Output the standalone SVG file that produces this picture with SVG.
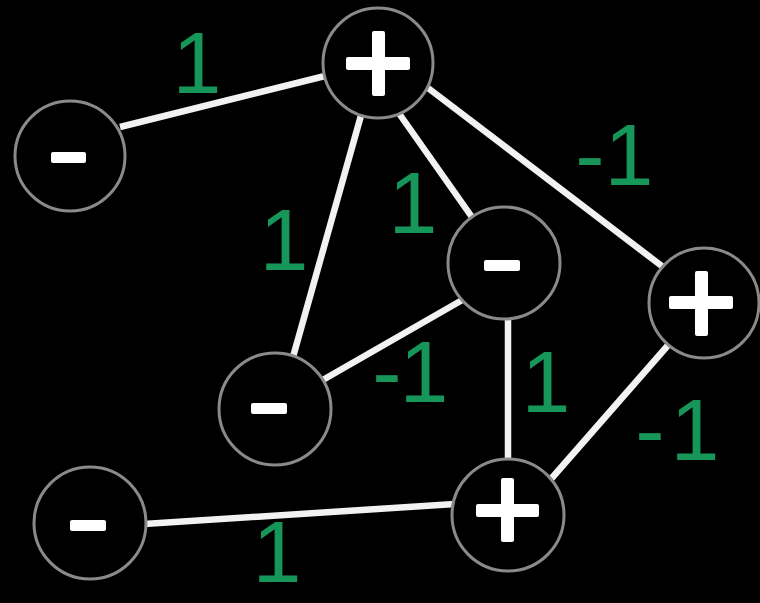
<svg xmlns="http://www.w3.org/2000/svg" width="760" height="603" viewBox="0 0 760 603">
<style>
.edge{stroke:#f2f2f2;stroke-width:6.5;fill:none}
.node circle{fill:#000;stroke:#8a8a8a;stroke-width:3}
.sym{fill:#fff}
.lbl{fill:#17965a;font-family:"Liberation Sans",Arial,sans-serif;font-size:88px;text-anchor:middle}
</style>
<rect width="760" height="603" fill="#000"/>
<g id="connectors">
<line class="edge" x1="120" y1="127" x2="325" y2="76"/>
<line class="edge" x1="362" y1="112" x2="293" y2="357"/>
<line class="edge" x1="398" y1="112" x2="474" y2="220"/>
<line class="edge" x1="428" y1="88" x2="667" y2="270"/>
<line class="edge" x1="464" y1="299" x2="321" y2="381"/>
<line class="edge" x1="508" y1="315" x2="508" y2="460"/>
<line class="edge" x1="670" y1="343" x2="551" y2="479"/>
<line class="edge" x1="144" y1="524" x2="455" y2="504"/>
</g>
<g id="n_top" class="node"><circle cx="378" cy="63" r="55"/><rect class="sym" x="346" y="57" width="64" height="13" rx="2"/><rect class="sym" x="372" y="31" width="13" height="65" rx="2"/></g>
<g id="n_left" class="node"><circle cx="70" cy="156" r="55"/><rect class="sym" x="51" y="152" width="35" height="11" rx="2"/></g>
<g id="n_mid" class="node"><circle cx="504" cy="263" r="56"/><rect class="sym" x="484" y="260" width="36" height="11" rx="2"/></g>
<g id="n_right" class="node"><circle cx="704" cy="303" r="55"/><rect class="sym" x="669" y="296" width="64" height="13" rx="2"/><rect class="sym" x="695" y="271" width="13" height="65" rx="2"/></g>
<g id="n_lowmid" class="node"><circle cx="275" cy="409" r="56"/><rect class="sym" x="251" y="403" width="36" height="11" rx="2"/></g>
<g id="n_botleft" class="node"><circle cx="90" cy="523" r="56"/><rect class="sym" x="70" y="520" width="36" height="11" rx="2"/></g>
<g id="n_bot" class="node"><circle cx="508" cy="515" r="56"/><rect class="sym" x="476" y="504" width="63" height="13" rx="2"/><rect class="sym" x="501" y="478" width="13" height="64" rx="2"/></g>
<g id="labels">
<text class="lbl" x="197" y="93">1</text>
<text class="lbl" y="185"><tspan x="590">-</tspan><tspan x="629">1</tspan></text>
<text class="lbl" x="413" y="233">1</text>
<text class="lbl" x="284" y="270">1</text>
<text class="lbl" y="402"><tspan x="387">-</tspan><tspan x="424">1</tspan></text>
<text class="lbl" x="546" y="412">1</text>
<text class="lbl" y="460"><tspan x="650">-</tspan><tspan x="695">1</tspan></text>
<text class="lbl" x="277" y="582" font-size="72">1</text>
</g>
</svg>
